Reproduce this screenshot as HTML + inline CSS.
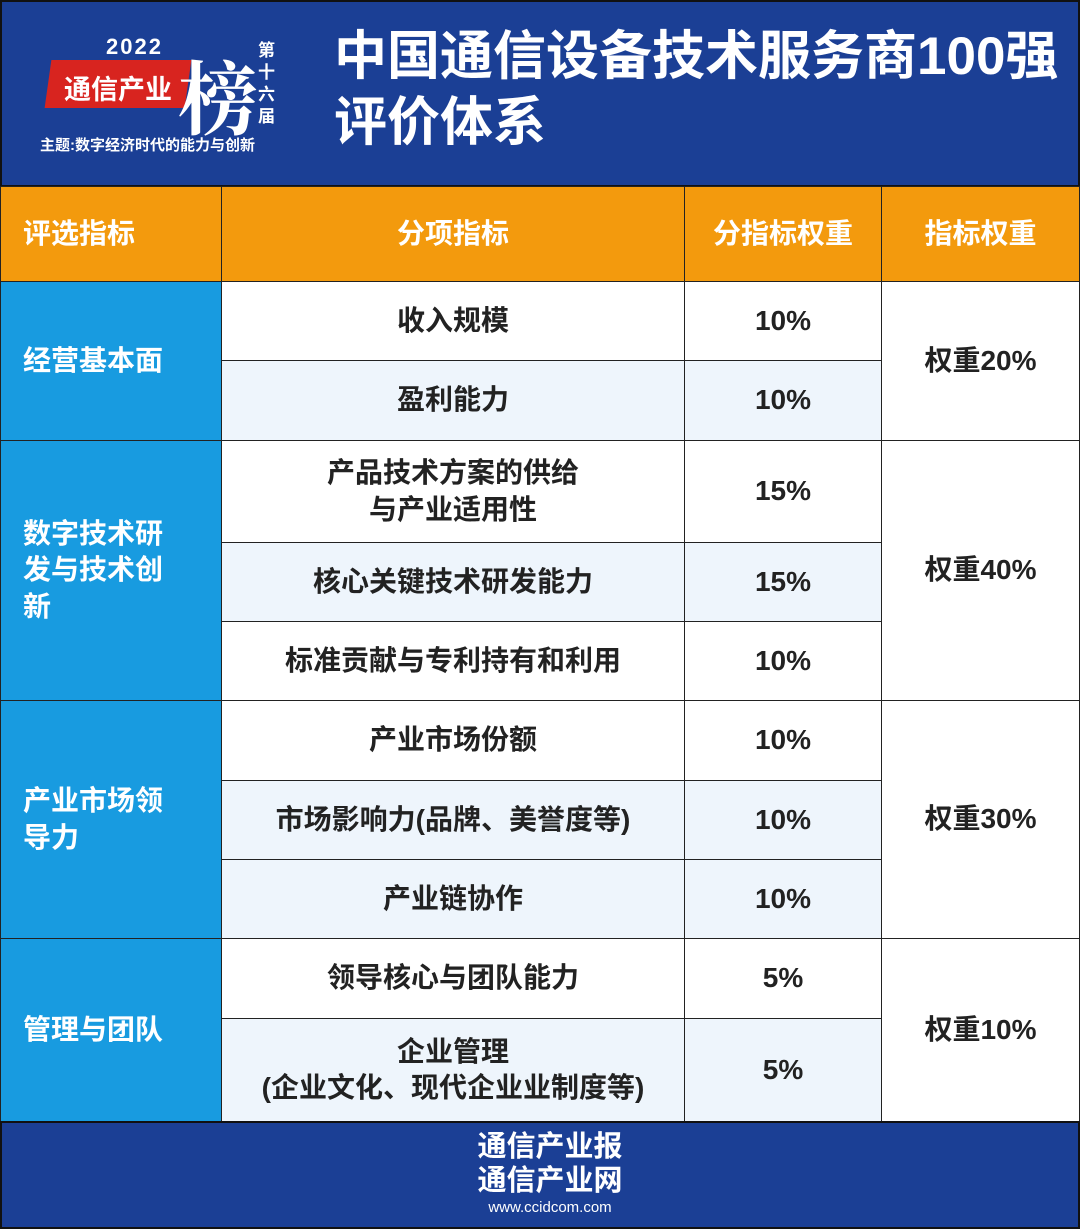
<!DOCTYPE html>
<html><head><meta charset="utf-8"><style>
*{margin:0;padding:0;box-sizing:border-box}
body{width:1080px;height:1229px;position:relative;background:#fff;font-family:"Liberation Sans","Noto Sans CJK SC",sans-serif;font-weight:bold;overflow:hidden}
.a{position:absolute;display:flex;align-items:center;justify-content:center;text-align:center;border:1.5px solid #222;font-size:28px;color:#222;line-height:1.3}
.h{background:#f39a0d;color:#fff;font-size:28px}
.l{background:#189be0;color:#fff;justify-content:flex-start;text-align:left;padding-left:22px;font-size:28px}
.w{background:#fff}.b{background:#eef5fc}
</style></head><body>
<div style="position:absolute;left:0;top:0;width:1080px;height:187px;background:#1b3f95;border:2px solid #111"></div>
<div style="position:absolute;left:48px;top:60px;width:140px;height:48px;background:#d8241f;transform:skewX(-8deg)"></div>
<div style="position:absolute;left:106px;top:34px;color:#fff;font-size:22px;letter-spacing:2px">2022</div>
<div style="position:absolute;left:64px;top:68px;color:#fff;font-size:27px">通信产业</div>
<div style="position:absolute;left:178px;top:36px;color:#fff;font-size:80px;font-family:'Noto Serif CJK SC',serif">榜</div>
<div style="position:absolute;left:258px;top:40px;color:#fff;font-size:17px;width:20px;line-height:22px">第十六届</div>
<div style="position:absolute;left:40px;top:134px;color:#fff;font-size:15px">主题:数字经济时代的能力与创新</div>
<div style="position:absolute;left:334px;top:24px;color:#fff;font-size:53px;line-height:66px;white-space:nowrap">中国通信设备技术服务商100强<br>评价体系</div>
<div class="a h" style="left:0;top:186px;width:222px;height:96px;justify-content:flex-start;padding-left:22px">评选指标</div>
<div class="a h" style="left:221px;top:186px;width:464px;height:96px">分项指标</div>
<div class="a h" style="left:684px;top:186px;width:198px;height:96px">分指标权重</div>
<div class="a h" style="left:881px;top:186px;width:199px;height:96px">指标权重</div>
<div class="a l" style="left:0;top:281px;width:222px;height:160px">经营基本面</div>
<div class="a l" style="left:0;top:440px;width:222px;height:261px">数字技术研<br>发与技术创<br>新</div>
<div class="a l" style="left:0;top:700px;width:222px;height:239px">产业市场领<br>导力</div>
<div class="a l" style="left:0;top:938px;width:222px;height:184px">管理与团队</div>
<div class="a w" style="left:221px;top:281px;width:464px;height:80px">收入规模</div><div class="a w" style="left:684px;top:281px;width:198px;height:80px">10%</div>
<div class="a b" style="left:221px;top:360px;width:464px;height:81px">盈利能力</div><div class="a b" style="left:684px;top:360px;width:198px;height:81px">10%</div>
<div class="a w" style="left:221px;top:440px;width:464px;height:103px">产品技术方案的供给<br>与产业适用性</div><div class="a w" style="left:684px;top:440px;width:198px;height:103px">15%</div>
<div class="a b" style="left:221px;top:542px;width:464px;height:80px">核心关键技术研发能力</div><div class="a b" style="left:684px;top:542px;width:198px;height:80px">15%</div>
<div class="a w" style="left:221px;top:621px;width:464px;height:80px">标准贡献与专利持有和利用</div><div class="a w" style="left:684px;top:621px;width:198px;height:80px">10%</div>
<div class="a w" style="left:221px;top:700px;width:464px;height:81px">产业市场份额</div><div class="a w" style="left:684px;top:700px;width:198px;height:81px">10%</div>
<div class="a b" style="left:221px;top:780px;width:464px;height:80px">市场影响力(品牌、美誉度等)</div><div class="a b" style="left:684px;top:780px;width:198px;height:80px">10%</div>
<div class="a b" style="left:221px;top:859px;width:464px;height:80px">产业链协作</div><div class="a b" style="left:684px;top:859px;width:198px;height:80px">10%</div>
<div class="a w" style="left:221px;top:938px;width:464px;height:81px">领导核心与团队能力</div><div class="a w" style="left:684px;top:938px;width:198px;height:81px">5%</div>
<div class="a b" style="left:221px;top:1018px;width:464px;height:104px">企业管理<br>(企业文化、现代企业业制度等)</div><div class="a b" style="left:684px;top:1018px;width:198px;height:104px">5%</div>
<div class="a w" style="left:881px;top:281px;width:199px;height:160px">权重20%</div>
<div class="a w" style="left:881px;top:440px;width:199px;height:261px">权重40%</div>
<div class="a w" style="left:881px;top:700px;width:199px;height:239px">权重30%</div>
<div class="a w" style="left:881px;top:938px;width:199px;height:184px">权重10%</div>
<div style="position:absolute;left:0;top:1121px;width:1080px;height:108px;background:#1b3f95;border:2px solid #111"></div>
<div style="position:absolute;left:470px;top:1130px;width:160px;color:#fff;font-size:29px;line-height:34px;text-align:center">通信产业报<br>通信产业网</div>
<div style="position:absolute;left:470px;top:1199px;width:160px;color:#fff;font-size:15px;font-weight:normal;text-align:center">www.ccidcom.com</div>
</body></html>
